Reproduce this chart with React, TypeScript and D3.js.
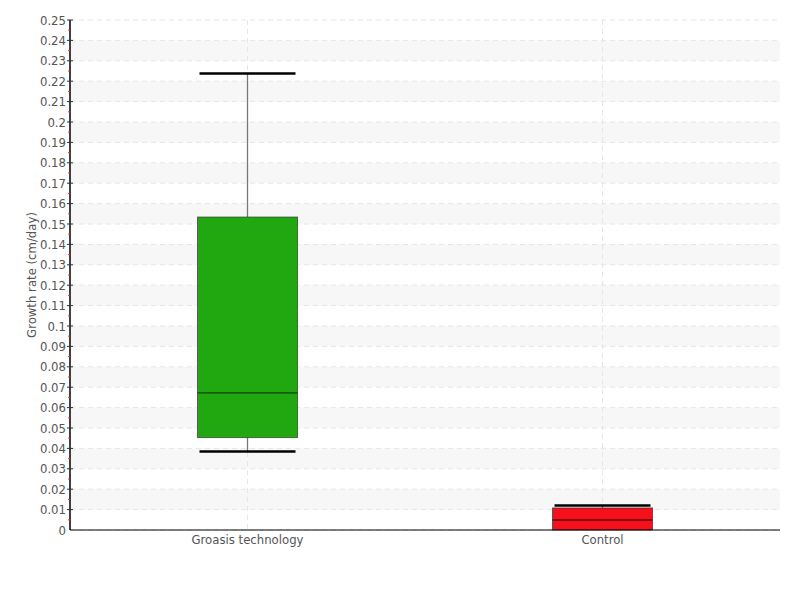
import React from 'react';
import * as d3 from 'd3';

const categories = ['Groasis technology', 'Control'];
const whiskerLow = [0.0385, 0];
const q1 = [0.0453, 0];
const median = [0.0672, 0.0049];
const q3 = [0.1534, 0.0108];
const whiskerHigh = [0.2238, 0.012];
const boxColors = ['#21a70f', '#f5101c'];
const yTicks = d3.range(0, 0.2501, 0.01);

const App = () => {
  const width = 800;
  const height = 600;
  const margin = { top: 20, right: 20, bottom: 70, left: 70 };

  const x = d3.scaleBand()
    .domain(categories)
    .range([margin.left, width - margin.right]);

  const y = d3.scaleLinear()
    .domain([0, 0.25])
    .range([height - margin.bottom, margin.top]);

  const boxW = 100;
  const capW = 96;
  const font = '"DejaVu Sans Condensed", "Liberation Sans Narrow", sans-serif';

  // shaded bands every other interval
  const bands = yTicks.filter((t, i) => i % 2 === 1 && i < yTicks.length - 1);

  return (
    <svg width={width} height={height} style={{ display: 'block', position: 'absolute', left: 0, top: 0 }}>
      <rect width={width} height={height} fill="#fff" />
      {bands.map((t, i) => (
        <rect key={'b' + i} x={margin.left} y={y(t + 0.01)} width={width - margin.right - margin.left}
          height={y(t) - y(t + 0.01)} fill="#f7f7f7" />
      ))}
      {yTicks.map((t, i) => (
        <line key={'g' + i} x1={margin.left} x2={width - margin.right - 3} y1={y(t)} y2={y(t)}
          stroke="#e6e6e6" strokeDasharray="5,4" />
      ))}
      {categories.map((c) => (
        <line key={'v' + c} x1={x(c)! + x.bandwidth() / 2} x2={x(c)! + x.bandwidth() / 2}
          y1={margin.top} y2={height - margin.bottom} stroke="#e6e6e6" strokeDasharray="5,4" />
      ))}

      {/* boxes */}
      {categories.map((c, i) => {
        const cx = x(c)! + x.bandwidth() / 2;
        return (
          <g key={'box' + c}>
            <line x1={cx} x2={cx} y1={y(whiskerHigh[i])} y2={y(q3[i])} stroke="#777" strokeWidth={1.3} />
            <line x1={cx} x2={cx} y1={y(q1[i])} y2={y(whiskerLow[i])} stroke="#777" strokeWidth={1.3} />
            <rect x={cx - boxW / 2} y={y(q3[i])} width={boxW} height={y(q1[i]) - y(q3[i])}
              fill={boxColors[i]} stroke="#333" strokeOpacity={0.7} strokeWidth={1} />
            <line x1={cx - boxW / 2} x2={cx + boxW / 2} y1={y(median[i])} y2={y(median[i])}
              stroke="#000" strokeOpacity={0.6} strokeWidth={1.3} />
            <line x1={cx - capW / 2} x2={cx + capW / 2} y1={y(whiskerHigh[i])} y2={y(whiskerHigh[i])}
              stroke="#000" strokeWidth={2.5} />
            {whiskerLow[i] > 0 && (
              <line x1={cx - capW / 2} x2={cx + capW / 2} y1={y(whiskerLow[i])} y2={y(whiskerLow[i])}
                stroke="#000" strokeWidth={2.5} />
            )}
          </g>
        );
      })}

      {/* y axis */}
      <line x1={margin.left} x2={margin.left} y1={margin.top} y2={height - margin.bottom} stroke="#000" strokeWidth={1.5} />
      {yTicks.map((t, i) => (
        <g key={'t' + i}>
          {i > 0 && <line x1={margin.left - 3} x2={margin.left + 3} y1={y(t)} y2={y(t)} stroke="#333" />}
          {i < yTicks.length - 1 && (
            <line x1={margin.left - 2} x2={margin.left} y1={y(t + 0.005)} y2={y(t + 0.005)} stroke="#e33" />
          )}
          <text x={margin.left - 4} y={y(t)} dy="0.35em" textAnchor="end" fontSize={13}
            fontFamily={font} fill="#555">{+t.toFixed(2)}</text>
        </g>
      ))}
      {/* x axis */}
      <line x1={margin.left} x2={width - margin.right} y1={height - margin.bottom} y2={height - margin.bottom} stroke="#000" strokeWidth={1.2} />
      {categories.map((c) => (
        <text key={'xl' + c} x={x(c)! + x.bandwidth() / 2} y={height - margin.bottom + 14} textAnchor="middle"
          fontSize={13} fontFamily={font} fill="#555">{c}</text>
      ))}
      <text transform={`translate(36,${(margin.top + height - margin.bottom) / 2}) rotate(-90)`}
        textAnchor="middle" fontSize={13} fontFamily={font} fill="#555">Growth rate (cm/day)</text>
    </svg>
  );
};

export default App;
